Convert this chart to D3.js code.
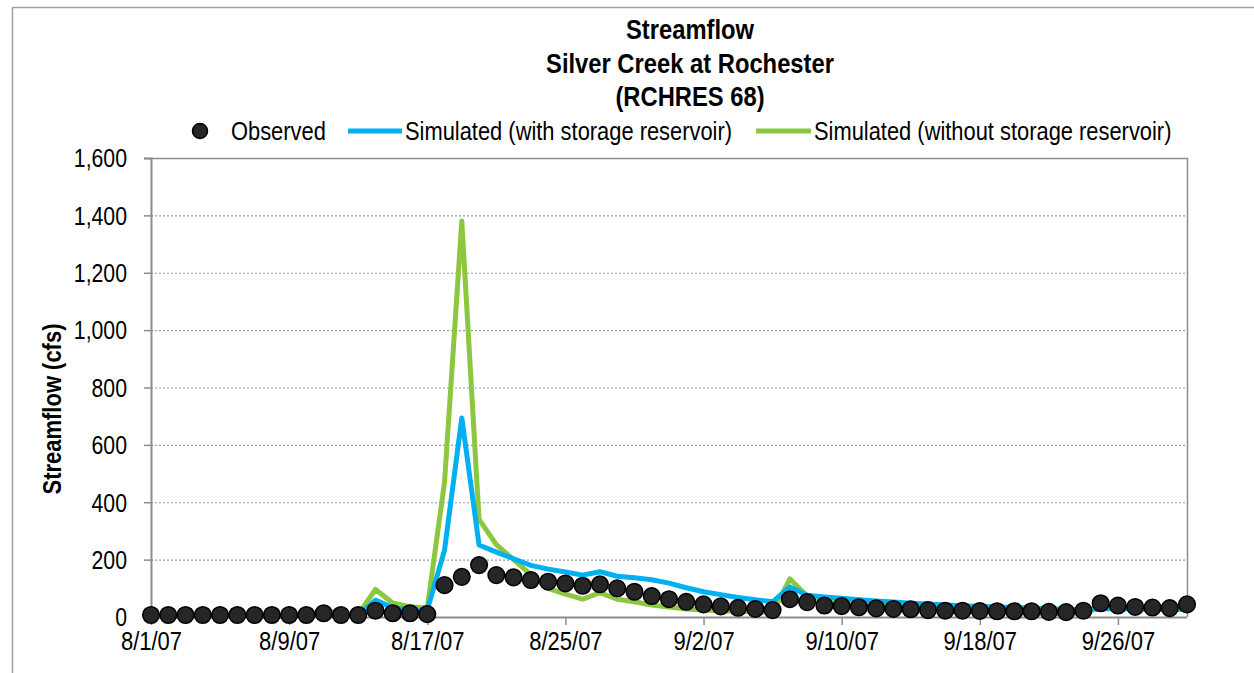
<!DOCTYPE html>
<html>
<head>
<meta charset="utf-8">
<script src="https://cdn.jsdelivr.net/npm/d3@7"></script>
<style>
  body { margin: 0; background: #fff; }
  svg text { font-family: "Liberation Sans Narrow", "Arial Narrow", "Liberation Sans", Arial, sans-serif; fill: #000; }
</style>
</head>
<body>
<div id="container"></div>
<script>

// daily values, 8/1/07 .. 9/30/07
const startDate = "2007-08-01";
const numDays = 61;

const observed = [
    7, 7, 7, 7, 7, 7, 7, 7, 7, 7,
    13, 7, 7, 22, 13, 13, 10, 111, 140, 181,
    146, 138, 129, 123, 117, 109, 114, 100, 88, 73,
    62, 53, 44, 37, 32, 28, 24, 62, 52, 40,
    38, 34, 30, 28, 27, 24, 22, 22, 21, 20,
    20, 20, 18, 17, 22, 48, 40, 35, 33, 31,
    44
];

const simWithStorage = [
    4, 4, 4, 4, 4, 4, 4, 4, 4, 4,
    8, 6, 5, 59, 32, 24, 24, 233, 694, 251,
    226, 203, 180, 167, 157, 146, 158, 142, 137, 130,
    118, 102, 88, 78, 68, 60, 53, 105, 76, 70,
    65, 60, 56, 52, 48, 45, 42, 39, 37, 35,
    33, 31, 29, 27, 25, 30, 29, 28, 27, 26,
    27
];

const simWithoutStorage = [
    5, 5, 5, 5, 5, 5, 5, 5, 6, 8,
    20, 15, 8, 96, 49, 36, 31, 470, 1380, 340,
    252, 200, 148, 100, 80, 62, 85, 62, 53, 42,
    35, 28, 24, 22, 20, 18, 16, 133, 72, 58,
    50, 45, 40, 35, 32, 28, 25, 22, 20, 18,
    16, 14, 13, 12, 12, 35, 33, 31, 30, 28,
    35
];

const yTicks = [0, 200, 400, 600, 800, 1000, 1200, 1400, 1600];
const xTickEvery = 8;

const titleLines = ["Streamflow", "Silver Creek at Rochester", "(RCHRES 68)"];
const legendLabels = ["Observed", "Simulated (with storage reservoir)", "Simulated (without storage reservoir)"];
const yLabel = "Streamflow (cfs)";

// no Arial Narrow here, so squeeze the regular face horizontally
function narrow(sel, factor = 0.82) {
    sel.each(function () {
        const w = this.getComputedTextLength();
        d3.select(this)
            .attr("textLength", w * factor)
            .attr("lengthAdjust", "spacingAndGlyphs");
    });
}

function main() {
    const width = 1254, height = 673;
    const margin = { left: 151, right: 67, top: 158, bottom: 56 };
    const blue = "#00b0f0", green = "#8dc63f", dotFill = "#262626", frame = "#8c8c8c";

    const t0 = d3.timeParse("%Y-%m-%d")(startDate);
    const dates = d3.range(numDays).map(i => d3.timeDay.offset(t0, i));

    const svg = d3.select("#container")
        .append("svg")
        .attr("width", width)
        .attr("height", height);

    // outer frame (top + left edges visible)
    svg.append("path")
        .attr("d", `M12.5,${height} V7.5 H${width}`)
        .attr("fill", "none")
        .attr("stroke", "#a0a0a0")
        .attr("stroke-width", 1.5);

    const xScale = d3.scaleTime()
        .domain([dates[0], dates[numDays - 1]])
        .range([margin.left, width - margin.right]);

    const yScale = d3.scaleLinear()
        .domain([0, 1600])
        .range([height - margin.bottom, margin.top]);

    // gridlines
    svg.append("g")
        .selectAll("line")
        .data(yTicks.filter(d => d > 0 && d < 1600))
        .join("line")
        .attr("x1", margin.left)
        .attr("x2", width - margin.right)
        .attr("y1", d => yScale(d) + 0.5)
        .attr("y2", d => yScale(d) + 0.5)
        .attr("stroke", "#9a9a9a")
        .attr("stroke-width", 1.2)
        .attr("stroke-dasharray", "2,2");

    // plot box: top and right
    svg.append("path")
        .attr("d", `M${margin.left},${yScale(1600) + 0.5} H${width - margin.right + 0.5} V${yScale(0)}`)
        .attr("fill", "none")
        .attr("stroke", frame)
        .attr("stroke-width", 1.5);

    // y axis
    const yAxis = svg.append("g")
        .attr("transform", `translate(${margin.left},0)`)
        .call(d3.axisLeft(yScale)
            .tickValues(yTicks)
            .tickSize(7)
            .tickPadding(17)
            .tickFormat(d3.format(",")));
    yAxis.select(".domain").attr("stroke", frame).attr("stroke-width", 2);
    yAxis.selectAll(".tick line").attr("stroke", frame).attr("stroke-width", 1.5);
    yAxis.selectAll(".tick text").attr("font-size", 25).attr("dy", "0.35em").call(narrow, 0.85);

    // x axis
    const xTickDates = dates.filter((d, i) => i % xTickEvery === 0);
    const xAxis = svg.append("g")
        .attr("transform", `translate(0,${yScale(0)})`)
        .call(d3.axisBottom(xScale)
            .tickValues(xTickDates)
            .tickSize(8)
            .tickPadding(7)
            .tickFormat(d3.timeFormat("%-m/%-d/%y")));
    xAxis.select(".domain").attr("stroke", frame).attr("stroke-width", 2).attr("d", `M${margin.left},0.5H${width - margin.right}`);
    xAxis.selectAll(".tick line").attr("stroke", frame).attr("stroke-width", 1.5);
    xAxis.selectAll(".tick text").attr("font-size", 25).call(narrow, 0.88);

    // lines
    const line = d3.line()
        .x((d, i) => xScale(dates[i]))
        .y(d => yScale(d));

    svg.append("path")
        .datum(simWithoutStorage)
        .attr("fill", "none")
        .attr("stroke", green)
        .attr("stroke-width", 5)
        .attr("stroke-linejoin", "round")
        .attr("d", line);

    svg.append("path")
        .datum(simWithStorage)
        .attr("fill", "none")
        .attr("stroke", blue)
        .attr("stroke-width", 5)
        .attr("stroke-linejoin", "round")
        .attr("d", line);

    // observed dots
    svg.append("g")
        .selectAll("circle")
        .data(observed)
        .join("circle")
        .attr("cx", (d, i) => xScale(dates[i]))
        .attr("cy", d => yScale(d))
        .attr("r", 8.3)
        .attr("fill", dotFill)
        .attr("stroke", "#000")
        .attr("stroke-width", 1.5);

    // title
    svg.append("g")
        .selectAll("text")
        .data(titleLines)
        .join("text")
        .attr("x", 690)
        .attr("y", (d, i) => 39 + i * 33.5)
        .attr("text-anchor", "middle")
        .attr("font-size", 27)
        .attr("font-weight", "bold")
        .text(d => d)
        .call(narrow, 0.88);

    // legend
    const legendY = 131;
    const legend = svg.append("g");
    legend.append("circle")
        .attr("cx", 200).attr("cy", legendY).attr("r", 7.5)
        .attr("fill", dotFill).attr("stroke", "#000").attr("stroke-width", 1.5);
    legend.append("line")
        .attr("x1", 348).attr("x2", 402).attr("y1", legendY).attr("y2", legendY)
        .attr("stroke", blue).attr("stroke-width", 5);
    legend.append("line")
        .attr("x1", 756).attr("x2", 811).attr("y1", legendY).attr("y2", legendY)
        .attr("stroke", green).attr("stroke-width", 5);
    legend.selectAll("text")
        .data(legendLabels)
        .join("text")
        .attr("x", (d, i) => [231, 405, 814][i])
        .attr("y", legendY)
        .attr("dy", "0.35em")
        .attr("font-size", 25)
        .text(d => d)
        .call(narrow, 0.875);

    // y label
    svg.append("text")
        .attr("transform", `translate(61,409) rotate(-90)`)
        .attr("text-anchor", "middle")
        .attr("font-size", 26)
        .attr("font-weight", "bold")
        .text(yLabel)
        .call(narrow, 0.845);
}

main();
</script>
</body>
</html>
